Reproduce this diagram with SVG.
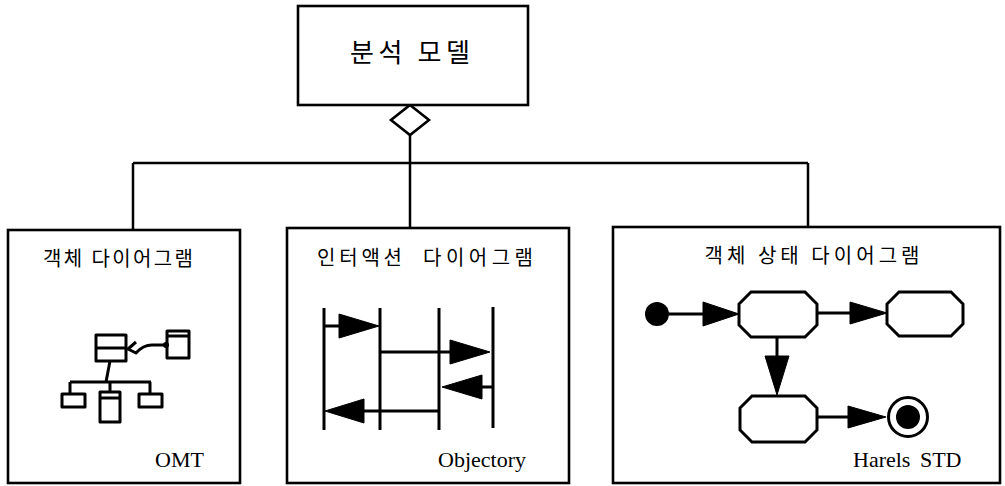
<svg xmlns="http://www.w3.org/2000/svg" width="1005" height="486" viewBox="0 0 1005 486">
<style>
.box{fill:#fff;stroke:#000;stroke-width:2.6}
.ln{fill:none;stroke:#000;stroke-width:2.5}
.thk{fill:none;stroke:#000;stroke-width:3;stroke-linejoin:round}
.ah{fill:#000;stroke:#000;stroke-width:1}
.st{fill:#fff;stroke:#000;stroke-width:3;stroke-linejoin:miter}
.ko{font-family:"Noto Sans CJK KR",sans-serif;font-weight:400;fill:#000}
.en{font-family:"Liberation Serif",serif;font-size:22px;fill:#000}
</style>
<rect width="1005" height="486" fill="#fff"/>
<g id="connectors">
<path class="ln" d="M410,135 V228 M133,163 H808 M133,163 V230 M808,163 V227"/>
<polygon points="410,105 429,120 410,135 391,120" fill="#fff" stroke="#000" stroke-width="2.6"/>
</g>
<g id="analysis-model">
<rect class="box" x="298" y="6" width="230" height="99"/>
<text class="ko" x="410" y="62" font-size="26" text-anchor="middle" textLength="120" lengthAdjust="spacing">분석 모델</text>
</g>
<g id="object-diagram">
<rect class="box" x="8" y="230" width="232" height="253"/>
<text class="ko" x="118" y="266" font-size="20" text-anchor="middle" textLength="150" lengthAdjust="spacing">객체 다이어그램</text>
<rect class="thk" x="96" y="335" width="30" height="26"/>
<path class="thk" d="M96,348 H126"/>
<rect class="thk" x="167" y="331" width="22" height="27"/>
<path class="thk" d="M167,336 H189"/>
<path class="thk" d="M136,342 L128,349 L136,353 Q143,345 152,345 H165"/>
<circle cx="166" cy="345" r="3" fill="#000"/>
<path class="thk" d="M110,361 L106,382 M70,382 H151 M70,382 V394 M110,382 V392 M150,382 V394"/>
<rect class="thk" x="62" y="394" width="23" height="13"/>
<rect class="thk" x="100" y="392" width="20" height="30"/>
<path class="thk" d="M100,398 H120"/>
<rect class="thk" x="139" y="394" width="23" height="13"/>
<text class="en" x="155" y="467">OMT</text>
</g>
<g id="interaction-diagram">
<rect class="box" x="287" y="228" width="282" height="255"/>
<text class="ko" x="317" y="265" font-size="20" textLength="85" lengthAdjust="spacing">인터액션</text>
<text class="ko" x="423" y="265" font-size="20" textLength="110" lengthAdjust="spacing">다이어그램</text>
<path class="thk" d="M324,308 V430 M380,308 V430 M439,308 V430 M493,307 V428"/>
<path class="thk" d="M324,326 H345 M380,352 H455 M493,387 H478 M439,411 H358"/>
<polygon class="ah" points="339,314 379,326 339,338"/>
<polygon class="ah" points="450,340 490,352 450,364"/>
<polygon class="ah" points="482,375 442,387 482,399"/>
<polygon class="ah" points="364,399 325,411 364,423"/>
<text class="en" x="438" y="467">Objectory</text>
</g>
<g id="state-diagram">
<rect class="box" x="613" y="227" width="387" height="256"/>
<text class="ko" x="812" y="263" font-size="20" text-anchor="middle" textLength="215" lengthAdjust="spacing">객체 상태 다이어그램</text>
<circle cx="657" cy="314" r="12" fill="#000"/>
<path class="thk" d="M669,314 H708 M817,313 H855 M777,337 V360 M817,417 H853"/>
<polygon class="ah" points="703,302 739,314 703,326"/>
<polygon class="ah" points="850,302 887,313 850,324"/>
<polygon class="ah" points="765,356 777,395 789,356"/>
<polygon class="ah" points="848,406 886,417 848,428"/>
<polygon class="st" points="751,292 805,292 817,304 817,325 805,337 751,337 739,325 739,304"/>
<polygon class="st" points="899,292 951,292 963,304 963,324 951,336 899,336 887,324 887,304"/>
<polygon class="st" points="752,396 805,396 817,408 817,430 805,442 752,442 740,430 740,408"/>
<circle cx="908" cy="417" r="19.5" fill="#fff" stroke="#000" stroke-width="3"/>
<circle cx="908" cy="417" r="12" fill="#000"/>
<text class="en" x="853" y="467" word-spacing="4">Harels STD</text>
</g>
</svg>
